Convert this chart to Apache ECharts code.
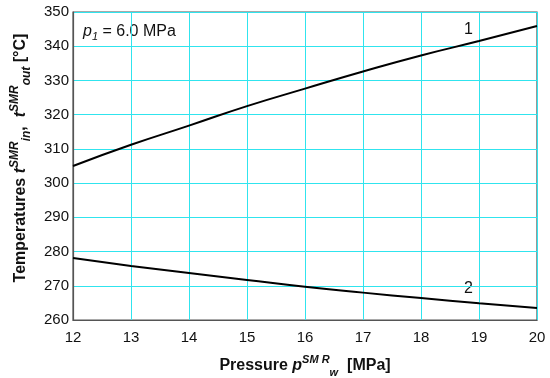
<!DOCTYPE html>
<html><head><meta charset="utf-8">
<script src="https://cdn.jsdelivr.net/npm/echarts@6/dist/echarts.min.js"></script>
<style>html,body{margin:0;padding:0;background:#fff}#c{width:550px;height:378px}</style>
</head><body><div id="c"></div>
<script>
const pressure = [12, 13, 14, 15, 16, 17, 18, 19, 20];
const tOut = [305.0, 311.2, 316.8, 322.5, 327.6, 332.6, 337.3, 341.5, 345.9];
const tIn = [278.1, 275.8, 273.7, 271.7, 269.7, 268.0, 266.4, 264.9, 263.5];
const xTicks = [12, 20, 1];
const yTicks = [260, 350, 10];

const chart = echarts.init(document.getElementById('c'));
const font = 'Liberation Sans, Arial, sans-serif';
function richSet(sz, ss) {
  return {
    b: {fontSize: sz, fontWeight: 'bold', color: '#111', fontFamily: font, lineHeight: 24, verticalAlign: 'middle'},
    bi: {fontSize: sz, fontWeight: 'bold', fontStyle: 'italic', color: '#111', fontFamily: font, lineHeight: 24, verticalAlign: 'middle'},
    sup: {fontSize: ss, fontWeight: 'bold', fontStyle: 'italic', color: '#111', fontFamily: font, verticalAlign: 'top', lineHeight: 11},
    sub: {fontSize: ss, fontWeight: 'bold', fontStyle: 'italic', color: '#111', fontFamily: font, verticalAlign: 'bottom', lineHeight: 11}
  };
}
chart.setOption({
  animation: false,
  grid: {left: 73, right: 13, top: 12, bottom: 58, containLabel: false, outerBoundsMode: 'none',
         show: true, borderColor: '#555', borderWidth: 1.2},
  xAxis: {
    type: 'value', min: xTicks[0], max: xTicks[1], interval: xTicks[2],
    axisLine: {lineStyle: {color: '#555', width: 1.2}},
    axisTick: {show: false},
    axisLabel: {color: '#111', fontSize: 15, fontFamily: font, margin: 10},
    splitLine: {lineStyle: {color: '#30e4ee', width: 1}},
    name: '{b|Pressure }{bi|p}{sup|SM R}{sub|w}{b|  [MPa]}',
    nameLocation: 'middle', nameGap: 34,
    nameTextStyle: {fontFamily: font, rich: richSet(16, 11)}
  },
  yAxis: {
    type: 'value', min: yTicks[0], max: yTicks[1], interval: yTicks[2],
    axisLine: {show: true, lineStyle: {color: '#555', width: 1.2}},
    axisTick: {show: false},
    axisLabel: {color: '#111', fontSize: 15, fontFamily: font, margin: 4},
    splitLine: {lineStyle: {color: '#30e4ee', width: 1}},
    name: '{b|Temperatures }{bi|t}{sup|SMR}{sub|in}{b|,  }{bi|t}{sup|SMR}{sub|out}{b| [°C]}',
    nameLocation: 'middle', nameGap: 33,
    nameTextStyle: {fontFamily: font, padding: [0, 0, 0, 16], rich: richSet(16, 12)}
  },
  series: [
    {type: 'line', data: pressure.map((p, i) => [p, tOut[i]]), smooth: true, showSymbol: false,
     lineStyle: {color: '#000', width: 2}},
    {type: 'line', data: pressure.map((p, i) => [p, tIn[i]]), smooth: true, showSymbol: false,
     lineStyle: {color: '#000', width: 2}}
  ],
  graphic: [
    {type: 'text', left: 83, top: 24, style: {
      text: '{i|p}{s|1}{n| = 6.0 MPa}',
      rich: {
        i: {fontSize: 16, fontStyle: 'italic', fontFamily: font, fill: '#111', lineHeight: 20, verticalAlign: 'middle'},
        s: {fontSize: 11, fontStyle: 'italic', fontFamily: font, fill: '#111', lineHeight: 10, verticalAlign: 'bottom'},
        n: {fontSize: 16, fontFamily: font, fill: '#111', lineHeight: 20, verticalAlign: 'middle'}
      }}},
    {type: 'text', left: 464, top: 22, style: {text: '1', fontSize: 16, fontFamily: font, fill: '#111'}},
    {type: 'text', left: 464, top: 281, style: {text: '2', fontSize: 16, fontFamily: font, fill: '#111'}}
  ]
});
</script></body></html>
